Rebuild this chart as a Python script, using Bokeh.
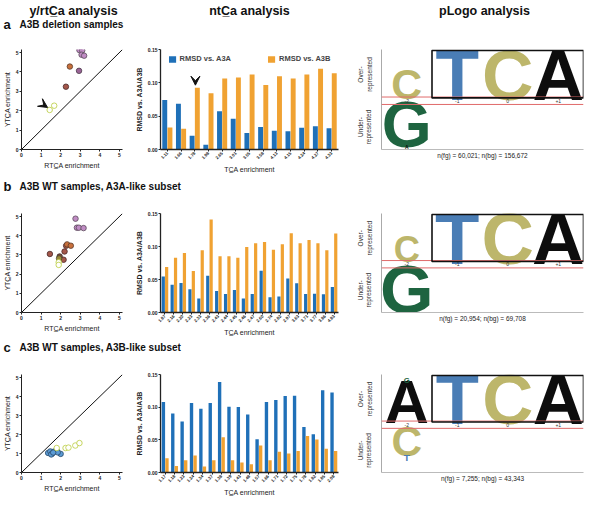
import math
from bokeh.plotting import figure
from bokeh.layouts import column, row
from bokeh.models import (Range1d, FactorRange, FixedTicker, Legend, LegendItem, Arrow, VeeHead,
                          ColumnDataSource, Slope, Span, BoxAnnotation, NumeralTickFormatter)
from bokeh.transform import dodge
from bokeh.core.properties import value
from bokeh.embed import file_html
from bokeh.resources import INLINE

FONT = "Liberation Sans"
BLUE = "#1f70b8"
ORANGE = "#f0a232"

# ---------------- data ----------------
# scatter (RTCA vs YTCA enrichment)
sa_x = [2.96, 3.10, 3.07, 3.20, 2.47, 2.94, 2.27, 1.67, 1.44]
sa_y = [5.13, 5.11, 4.89, 4.84, 4.28, 4.06, 3.24, 2.26, 2.04]
sa_c = ["purple", "purple", "purple", "purple", "orange", "mauve", "brown", "hollow", "hollow"]

sb_x = [2.76, 2.83, 2.93, 3.17, 1.45, 2.28, 2.33, 2.52, 2.20, 1.95, 2.15, 1.92, 1.90, 1.90]
sb_y = [4.89, 4.42, 4.42, 4.40, 3.05, 3.48, 3.55, 3.48, 3.18, 2.92, 2.75, 2.82, 2.62, 2.48]
sb_c = ["purple", "purple", "purple", "purple", "brown", "brown", "orange", "orange", "brown",
        "dark", "brown", "olive", "hollow", "hollow"]

sc_x = [1.36, 1.47, 1.57, 1.68, 1.80, 2.00, 1.52, 1.85, 1.62, 1.80, 2.25, 2.40, 2.75, 2.96]
sc_y = [1.03, 1.11, 1.00, 1.11, 1.14, 0.98, 0.95, 1.06, 1.05, 1.29, 1.29, 1.31, 1.42, 1.55]
sc_c = ["blue"] * 9 + ["hollow"] * 5

# bars (RMSD vs A3A / A3B by TCA enrichment)
ba_lab = ["1.11", "1.66", "1.78", "1.98", "2.65", "3.01", "3.55", "3.58", "4.13", "4.15", "4.24", "4.27", "4.33"]
ba_a3a = [0.0744, 0.0686, 0.0205, 0.0070, 0.0575, 0.0460, 0.0247, 0.0337, 0.0280, 0.0275, 0.0325, 0.0350, 0.0320]
ba_a3b = [0.0329, 0.0312, 0.0925, 0.0842, 0.1064, 0.1080, 0.1126, 0.0966, 0.1097, 0.1064, 0.1126, 0.1212, 0.1142]

bb_lab = ["1.87", "2.16", "2.20", "2.23", "2.33", "2.36", "2.43", "2.44", "2.45", "2.46", "2.47", "2.60",
          "2.74", "2.82", "2.97", "3.63", "3.71", "3.77", "3.86", "4.83"]
bb_a3a = [0.0545, 0.0422, 0.0447, 0.0352, 0.0213, 0.0557, 0.0324, 0.0279, 0.0340, 0.0213, 0.0279, 0.0631,
          0.0230, 0.0242, 0.0516, 0.0443, 0.0279, 0.0283, 0.0275, 0.0385]
bb_a3b = [0.0689, 0.0828, 0.0902, 0.0627, 0.0943, 0.1410, 0.0852, 0.0852, 0.0828, 0.0992, 0.1049, 0.1070,
          0.0951, 0.1033, 0.1200, 0.1049, 0.1098, 0.1049, 0.0943, 0.1197]

bc_lab = ["1.17", "1.18", "1.23", "1.24", "1.34", "1.37", "1.38", "1.39", "1.43", "1.48", "1.57", "1.66",
          "1.71", "1.72", "1.75", "1.78", "1.82", "1.85", "2.08"]
bc_a3a = [0.1080, 0.0904, 0.0781, 0.1064, 0.0974, 0.1064, 0.1385, 0.1007, 0.1003, 0.0888, 0.0510, 0.1080,
          0.1110, 0.1171, 0.1175, 0.0695, 0.0584, 0.1258, 0.1225]
bc_a3b = [0.0218, 0.0099, 0.0189, 0.0259, 0.0090, 0.0189, 0.0538, 0.0189, 0.0152, 0.0127, 0.0415, 0.0189,
          0.0316, 0.0292, 0.0329, 0.0559, 0.0505, 0.0362, 0.0329]

# pLogo letters: position, letter, height (fraction of section), side
la_pos = [-2, -1, 0, 1, -2, -2]
la_let = ["C", "T", "C", "A", "G", "A"]
la_h = [0.60, 1.0, 1.0, 1.0, 0.90, 0.07]
la_side = ["over", "over", "over", "over", "under", "under"]
la_n = "n(fg) = 60,021; n(bg) = 156,672"

lb_pos = [-2, -1, 0, 1, -2]
lb_let = ["C", "T", "C", "A", "G"]
lb_h = [0.50, 1.0, 1.0, 1.0, 0.95]
lb_side = ["over", "over", "over", "over", "under"]
lb_n = "n(fg) = 20,954; n(bg) = 69,708"

lc_pos = [-2, -2, -1, 0, 1, -2, -2]
lc_let = ["A", "G", "T", "C", "A", "C", "T"]
lc_h = [0.87, 0.11, 1.0, 1.0, 1.0, 0.60, 0.14]
lc_side = ["over", "over", "over", "over", "over", "under", "under"]
lc_n = "n(fg) = 7,255; n(bg) = 43,343"

pos_labels = ["-2", "-1", "0", "+1"]
pos_vals = [-2, -1, 0, 1]

# ---------------- styles ----------------
PT_FILL = {"purple": "#c08cc4", "mauve": "#9a6496", "orange": "#c8703c", "brown": "#a4574a",
           "dark": "#7a4a3a", "olive": "#9a8a3a", "hollow": "white", "blue": "#5b9bd5"}
PT_LINE = {"purple": "#5a4a5a", "mauve": "#4a3a4a", "orange": "#5a3a2a", "brown": "#4a2a2a",
           "dark": "#3a2a2a", "olive": "#4a4a2a", "hollow": "#b9cc3c", "blue": "#2a4a6a"}
LET_COL = {"A": "#0d0d0d", "C": "#bdb66b", "G": "#1e6440", "T": "#4a7db5"}
RED = "#e06a6a"


def base_fig(**kw):
    p = figure(toolbar_location=None, output_backend="svg", **kw)
    p.outline_line_color = None
    p.grid.visible = False
    p.background_fill_color = "white"
    p.border_fill_color = "white"
    return p


def strip(w, h, items):
    p = base_fig(width=w, height=h, x_range=Range1d(0, w), y_range=Range1d(0, h),
                 x_axis_location=None, y_axis_location=None, min_border=0)
    for (x, yc, txt, size, align) in items:
        p.text(x=[x], y=[h - yc], text=[txt], text_font=value(FONT), text_font_size=size,
               text_font_style="bold", text_align=align, text_baseline="middle", text_color="#111")
    return p


def style_axis(ax, label, label_size="7px", label_style="normal", tick_size="5.5px"):
    ax.axis_label = label
    ax.axis_label_text_font = FONT
    ax.axis_label_text_font_size = label_size
    ax.axis_label_text_font_style = label_style
    ax.axis_label_text_color = "#222"
    ax.axis_label_standoff = 2
    ax.major_label_text_font = FONT
    ax.major_label_text_font_size = tick_size
    ax.major_label_text_font_style = "bold"
    ax.major_label_text_color = "#222"
    ax.major_label_standoff = 1
    ax.major_tick_in = 0
    ax.major_tick_out = 2
    ax.minor_tick_line_color = None
    ax.axis_line_color = "#222"
    ax.major_tick_line_color = "#222"


def scatter_fig(xs, ys, cats, rh, fb, top, arrow=None):
    p = base_fig(width=131, height=rh, x_range=Range1d(0, 5.16), y_range=Range1d(0, 5.16),
                 min_border_left=20, min_border_right=9, min_border_top=top,
                 min_border_bottom=rh - fb)
    p.add_layout(Slope(gradient=1, y_intercept=0, line_color="#111", line_width=1))
    src = ColumnDataSource(dict(x=xs, y=ys, f=[PT_FILL[c] for c in cats], l=[PT_LINE[c] for c in cats]))
    p.scatter("x", "y", source=src, size=5.5, fill_color="f", line_color="l", line_width=0.8)
    for ax in (p.xaxis[0], p.yaxis[0]):
        ax.ticker = FixedTicker(ticks=[0, 1, 2, 3, 4, 5])
    style_axis(p.xaxis[0], "RTC\u0332A enrichment", tick_size="5px")
    style_axis(p.yaxis[0], "YTC\u0332A enrichment", tick_size="5px")
    if arrow:
        p.add_layout(Arrow(x_start=arrow[0], y_start=arrow[1], x_end=arrow[2], y_end=arrow[3],
                           line_alpha=0, end=VeeHead(size=9, fill_color="#111", line_color="#111")))
    return p


def bar_fig(labels, v1, v2, rh, fb, top, legend=False, arrow_idx=None):
    p = base_fig(width=211, height=rh, x_range=FactorRange(*labels), y_range=Range1d(0, 0.15),
                 min_border_left=29, min_border_right=4, min_border_top=top,
                 min_border_bottom=rh - fb)
    src = ColumnDataSource(dict(cat=labels, a=v1, b=v2))
    r1 = p.vbar(x=dodge("cat", -0.19, range=p.x_range), top="a", width=0.36, source=src,
                fill_color=BLUE, line_color=None)
    r2 = p.vbar(x=dodge("cat", 0.19, range=p.x_range), top="b", width=0.36, source=src,
                fill_color=ORANGE, line_color=None)
    p.yaxis.ticker = FixedTicker(ticks=[0, 0.05, 0.10, 0.15])
    p.yaxis.formatter = NumeralTickFormatter(format="0.00")
    style_axis(p.yaxis[0], "RMSD vs. A3A/A3B", label_style="bold", tick_size="5px")
    style_axis(p.xaxis[0], "TC\u0332A enrichment", tick_size="4.3px")
    p.xaxis.major_label_orientation = math.pi / 4
    p.xaxis.axis_line_width = 1.3
    p.yaxis.axis_line_width = 1.3
    p.x_range.range_padding = 0
    if legend:
        lg = Legend(items=[LegendItem(label="RMSD vs. A3A", renderers=[r1]),
                           LegendItem(label="RMSD vs. A3B", renderers=[r2])],
                    orientation="horizontal", location="top_center",
                    label_text_font=FONT, label_text_font_size="7.5px", label_text_font_style="bold",
                    glyph_width=9, glyph_height=8, spacing=36, padding=0, margin=5,
                    label_standoff=3, border_line_color=None, background_fill_alpha=0)
        p.add_layout(lg)
    if arrow_idx is not None:
        p.add_layout(Arrow(x_start=arrow_idx + 0.55, y_start=0.105, x_end=arrow_idx + 0.55, y_end=0.0965,
                           line_alpha=0, end=VeeHead(size=9, fill_color="#111", line_color="#111")))
    return p


def logo_fig(pos, let, hts, side, ntext, rh, fb, top):
    y0, y1 = -1.0, 1.22
    fh = fb - top
    ppu = fh / (y1 - y0)
    band = 0.165
    p = base_fig(width=242, height=rh, x_range=Range1d(-2.5, 1.5), y_range=Range1d(y0, y1),
                 min_border_left=39, min_border_right=1, min_border_top=top,
                 min_border_bottom=rh - fb)
    over_acc = {}
    under_acc = {}
    xs, ys, fs, cols = [], [], [], []
    for x, l, h, s in zip(pos, let, hts, side):
        if s == "over":
            c = band + over_acc.get(x, 0.0) + h / 2
            over_acc[x] = over_acc.get(x, 0.0) + h
        else:
            c = -(under_acc.get(x, 0.0) + h / 2)
            under_acc[x] = under_acc.get(x, 0.0) + h
        xs.append(x)
        ys.append(c)
        fs.append("%.1fpx" % (h * ppu / 0.72))
        cols.append(LET_COL[l])
    src = ColumnDataSource(dict(x=xs, y=ys, t=let, fs=fs, c=cols))
    p.text("x", "y", text="t", source=src, text_font=value(FONT), text_font_style="bold",
           text_font_size="fs", text_color="c", text_align="center", text_baseline="middle")
    p.add_layout(Span(location=band, dimension="width", line_color=RED, line_width=1))
    p.add_layout(Span(location=0, dimension="width", line_color=RED, line_width=1))
    p.add_layout(BoxAnnotation(left=-1.5, right=1.5, bottom=band - 0.02, top=1.2, fill_alpha=0,
                               line_color="#111", line_alpha=1, line_width=1.6))
    p.text(x=pos_vals, y=[band / 2] * 4, text=pos_labels, text_font=value(FONT), text_font_size="5px",
           text_align="center", text_baseline="middle", text_color="#333")
    p.yaxis.ticker = FixedTicker(ticks=[band + 0.5, -0.5])
    p.yaxis.major_label_overrides = {band + 0.5: "Over-\nrepresented", -0.5: "Under-\nrepresented"}
    p.yaxis.major_label_orientation = "vertical"
    p.yaxis.major_label_text_font = FONT
    p.yaxis.major_label_text_font_size = "6.5px"
    p.yaxis.major_label_text_color = "#333"
    p.yaxis.major_tick_line_color = None
    p.yaxis.minor_tick_line_color = None
    p.yaxis.axis_line_color = "#aaa"
    p.yaxis.major_label_standoff = 3
    p.xaxis.ticker = FixedTicker(ticks=[])
    p.xaxis.axis_line_color = "#bbb"
    p.xaxis.axis_label = ntext
    p.xaxis.axis_label_text_font = FONT
    p.xaxis.axis_label_text_font_size = "6.5px"
    p.xaxis.axis_label_text_font_style = "normal"
    p.xaxis.axis_label_text_color = "#222"
    p.xaxis.axis_label_standoff = 2
    p.xaxis.major_tick_line_color = None
    p.xaxis.minor_tick_line_color = None
    return p


W = 584
head = strip(W, 31, [
    (73, 10.5, "y/rtC\u0332a analysis", "12.5px", "center"),
    (249, 10.5, "ntC\u0332a analysis", "12.5px", "center"),
    (484, 10.5, "pLogo analysis", "12.5px", "center"),
    (3, 23.5, "a", "13px", "left"),
    (19, 23.5, "A3B deletion samples", "10px", "left"),
])
strip_b = strip(W, 18, [(3, 10.5, "b", "13px", "left"), (19, 10.5, "A3B WT samples, A3A-like subset", "10px", "left")])
strip_c = strip(W, 16, [(3, 8.5, "c", "13px", "left"), (19, 8.5, "A3B WT samples, A3B-like subset", "10px", "left")])

# row geometry: (row height, frame bottom, scatter top, bar top, logo top)
GA = (144, 120, 18, 3, 6)
GB = (145, 123, 20, 4, 7)
GC = (144, 122, 20, 5, 9)

row_a = row(scatter_fig(sa_x, sa_y, sa_c, GA[0], GA[1], GA[2], arrow=(0.95, 2.42, 1.33, 2.17)),
            bar_fig(ba_lab, ba_a3a, ba_a3b, GA[0], GA[1], GA[3], legend=True, arrow_idx=2),
            logo_fig(la_pos, la_let, la_h, la_side, la_n, GA[0], GA[1], GA[4]))
row_b = row(scatter_fig(sb_x, sb_y, sb_c, GB[0], GB[1], GB[2]),
            bar_fig(bb_lab, bb_a3a, bb_a3b, GB[0], GB[1], GB[3]),
            logo_fig(lb_pos, lb_let, lb_h, lb_side, lb_n, GB[0], GB[1], GB[4]))
row_c = row(scatter_fig(sc_x, sc_y, sc_c, GC[0], GC[1], GC[2]),
            bar_fig(bc_lab, bc_a3a, bc_a3b, GC[0], GC[1], GC[3]),
            logo_fig(lc_pos, lc_let, lc_h, lc_side, lc_n, GC[0], GC[1], GC[4]))

layout = column(head, row_a, strip_b, row_b, strip_c, row_c)
open("out.html", "w").write(file_html(layout, INLINE))
